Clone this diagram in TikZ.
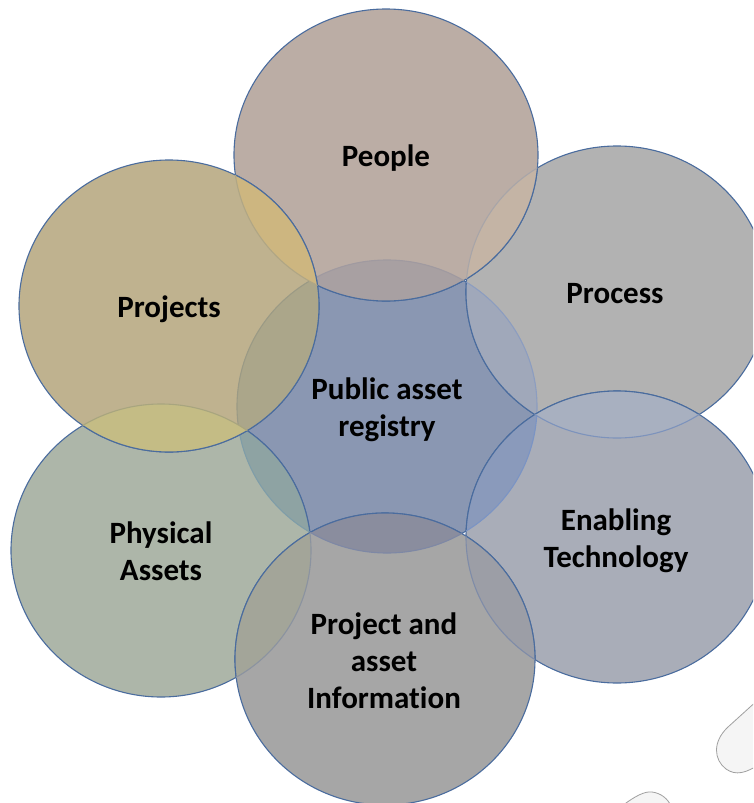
\documentclass[tikz,border=0pt]{standalone}
\usepackage{fontspec}
\setmainfont{Carlito}
\newcommand{\sCen}{(387,406.5) ellipse [x radius=150pt,y radius=146.5pt]}
\newcommand{\sPeo}{(386,155) ellipse [x radius=152pt,y radius=146pt]}
\newcommand{\sPrj}{(169,306) ellipse [x radius=150pt,y radius=146pt]}
\newcommand{\sPrc}{(617,292) ellipse [x radius=151pt,y radius=146pt]}
\newcommand{\sEna}{(617,537) ellipse [x radius=151pt,y radius=146pt]}
\newcommand{\sPhy}{(161,550.5) ellipse [x radius=150pt,y radius=146.5pt]}
\newcommand{\sInf}{(385,659) ellipse [x radius=150pt,y radius=146pt]}
% \lens{under}{top}{fill}{faint edge}
\newcommand{\lens}[4]{%
  \definecolor{lensfill}{HTML}{#3}\definecolor{lensedge}{HTML}{#4}%
  \begin{scope}\clip #1;\fill[fill=lensfill] #2;\draw[ring,draw=mainedge] #2;\end{scope}%
  \begin{scope}\clip #2;\draw[ring,draw=lensedge] #1;\end{scope}%
}
\definecolor{mainedge}{HTML}{4A6C9E}
\definecolor{cCen}{HTML}{8A97B2}
\definecolor{cPeo}{HTML}{BBADA5}
\definecolor{cPrj}{HTML}{BFB28F}
\definecolor{cPrc}{HTML}{B2B2B2}
\definecolor{cEna}{HTML}{A9ADB8}
\definecolor{cPhy}{HTML}{ADB6A9}
\definecolor{cInf}{HTML}{A6A6A6}
\definecolor{blobfill}{HTML}{F5F5F5}
\definecolor{blobedge}{HTML}{A0A0A0}
\tikzset{
  ring/.style={line width=1.1pt},
  disc/.style={ring,draw=mainedge},
  lbl/.style={font=\fontsize{31}{37}\selectfont\bfseries,align=center,text=black,inner sep=0pt},
  blob/.style={fill=blobfill,draw=blobedge,line width=0.8pt}
}
\begin{document}
\begin{tikzpicture}[x=1pt,y=-1pt]
\useasboundingbox (0,0) rectangle (753,803);
\clip (0,0) rectangle (753,803);
\fill[white] (0,0) rectangle (753,803);
\draw[blob] (760,698) -- (728,727) .. controls (712,742) and (714,760) .. (726,769) .. controls (736,776) and (746,773) .. (760,764) -- cycle;
\draw[blob] (622,806) .. controls (635,796) and (645,791) .. (652,792) .. controls (661,793) and (668,799) .. (671,806) -- cycle;
\path[disc,fill=cCen] \sCen;
\path[disc,fill=cPrc] \sPrc;
\path[disc,fill=cEna] \sEna;
\path[disc,fill=cPhy] \sPhy;
\path[disc,fill=cInf] \sInf;
\path[disc,fill=cPeo] \sPeo;
\path[disc,fill=cPrj] \sPrj;
\lens{\sCen}{\sPrc}{A0A8BA}{8C9DC0}
\lens{\sCen}{\sEna}{8A9ABB}{7B94C4}
\lens{\sPrc}{\sEna}{A8B0C0}{7D93BC}
\lens{\sCen}{\sPhy}{8EA3A3}{7F9DA8}
\lens{\sCen}{\sInf}{8A8D9E}{7E88A5}
\lens{\sPhy}{\sInf}{A3A599}{8B93A0}
\lens{\sEna}{\sInf}{9C9EA6}{7F8CA8}
\lens{\sCen}{\sPeo}{A8A0A2}{A09AA0}
\lens{\sPrc}{\sPeo}{C4B4A5}{A8A5A8}
\lens{\sCen}{\sPrj}{ABA68A}{9B9A85}
\lens{\sPhy}{\sPrj}{C4BC85}{A8A57F}
\lens{\sPeo}{\sPrj}{CDB680}{B0A685}
\node[lbl] (people) at (386,158) {People};
\node[lbl] (process) at (615,294) {Process};
\node[lbl] (projects) at (169,309) {Projects};
\node[lbl] (registry) at (387,410) {Public asset\\registry};
\node[lbl] (enabling) at (616,541) {Enabling\\Technology};
\node[lbl] (physical) at (161,551.5) {Physical\\Assets};
\node[lbl] (info) at (384,661) {Project and\\asset\\Informat\kern0pt ion};
\end{tikzpicture}
\end{document}
